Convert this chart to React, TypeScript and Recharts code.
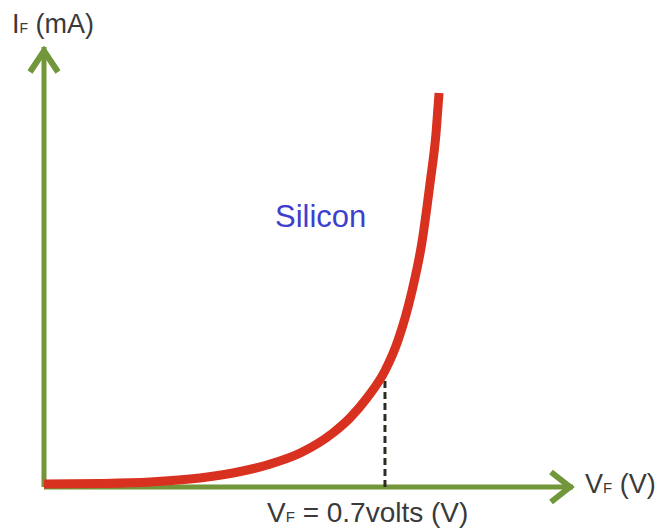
import { LineChart, Line, XAxis, YAxis, ReferenceLine, ReferenceDot } from 'recharts'

// forward voltage (V) and forward current (mA)
const voltage = [0, 0.115, 0.218, 0.32, 0.388, 0.458, 0.526, 0.593, 0.628, 0.663, 0.7, 0.727, 0.755, 0.776, 0.792, 0.805, 0.811]
const current = [0.34, 0.4, 0.57, 1.02, 1.59, 2.5, 3.86, 6.14, 7.84, 10.11, 13.2, 16.7, 22.16, 27.84, 34.32, 40.34, 44.77]

const kneeVoltage = 0.7
const kneeCurrent = 13.2
const vMax = 1.086
const iMax = 50

const data = voltage.map((v, i) => ({ v, i: current[i] }))

const GREEN = '#72963a'
const RED = '#d9311f'
const TEXT = '#3a3a3a'

const UpArrow = (props: any) => {
  const { cx, cy } = props
  return (
    <path
      d={`M${cx - 14},${cy + 25} L${cx},${cy + 4} L${cx + 14},${cy + 25}`}
      fill="none"
      stroke={GREEN}
      strokeWidth={6}
    />
  )
}

const RightArrow = (props: any) => {
  const { cx, cy } = props
  return (
    <path
      d={`M${cx - 22},${cy - 15} L${cx - 3},${cy} L${cx - 22},${cy + 15}`}
      fill="none"
      stroke={GREEN}
      strokeWidth={6}
    />
  )
}

export default function App() {
  return (
    <div style={{ position: 'fixed', top: 0, left: 0, width: 664, height: 530, background: '#fff' }}>
      <LineChart
        width={664}
        height={530}
        data={data}
        margin={{ top: 47, right: 91, left: 44, bottom: 43 }}
      >
        <XAxis type="number" dataKey="v" domain={[0, vMax]} hide />
        <YAxis type="number" domain={[0, iMax]} hide />
        <ReferenceLine x={0} stroke={GREEN} strokeWidth={5} />
        <ReferenceLine y={0} stroke={GREEN} strokeWidth={5} />
        <ReferenceLine
          segment={[
            { x: kneeVoltage, y: 0 },
            { x: kneeVoltage, y: kneeCurrent },
          ]}
          stroke="#2b2b22"
          strokeWidth={3}
          strokeDasharray="7 4"
        />
        <ReferenceDot x={0} y={iMax} r={0} ifOverflow="visible" shape={UpArrow} />
        <ReferenceDot x={vMax} y={0} r={0} ifOverflow="visible" shape={RightArrow} />
        <Line
          type="monotone"
          dataKey="i"
          stroke={RED}
          strokeWidth={9}
          dot={false}
          isAnimationActive={false}
        />
      </LineChart>
      <svg
        width={664}
        height={530}
        style={{ position: 'absolute', top: 0, left: 0, pointerEvents: 'none' }}
        fontFamily="'Liberation Sans', Arial, sans-serif"
      >
        <text x={12} y={33} fontSize={27} fill={TEXT}>
          I<tspan fontSize={14}>F</tspan> (mA)
        </text>
        <text x={585} y={493} fontSize={27} fill={TEXT}>
          V<tspan fontSize={15}>F</tspan> (V)
        </text>
        <text x={267} y={522} fontSize={28} fill={TEXT}>
          V<tspan fontSize={15}>F</tspan> = 0.7volts (V)
        </text>
        <text x={275} y={227} fontSize={31} fill="#3f3fcf">
          Silicon
        </text>
      </svg>
    </div>
  )
}
